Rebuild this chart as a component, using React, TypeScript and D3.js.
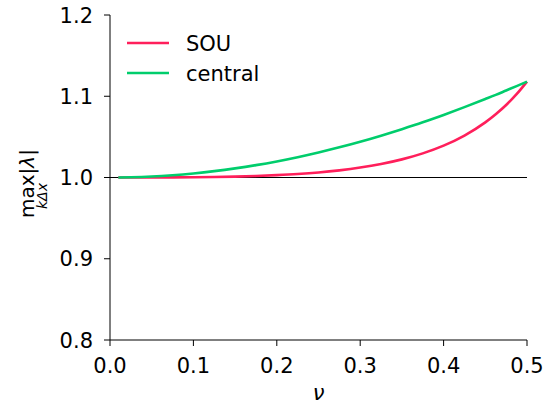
import React from "react";
import * as d3 from "d3";

// Courant numbers at which the amplification factor was sampled
const nu = [
  0.01, 0.025, 0.05, 0.075, 0.1, 0.125, 0.15, 0.175, 0.2, 0.225, 0.25, 0.275,
  0.3, 0.325, 0.35, 0.375, 0.4, 0.425, 0.45, 0.4625, 0.475, 0.4875, 0.5,
];

// max over kΔx of |λ| for the second-order upwind scheme
const souValues = [
  1.0, 1.0, 1.00003, 1.0001, 1.0003, 1.0006, 1.0011, 1.0018, 1.0029, 1.0043,
  1.0062, 1.0088, 1.0122, 1.0166, 1.0223, 1.0297, 1.0392, 1.0516, 1.0678,
  1.0778, 1.0892, 1.1025, 1.118,
];

// max over kΔx of |λ| for the central scheme
const centralValues = [
  1.00005, 1.0003, 1.0012, 1.0028, 1.005, 1.0078, 1.0112, 1.0152, 1.0198,
  1.025, 1.0308, 1.0371, 1.044, 1.0515, 1.0595, 1.0679, 1.077, 1.0866,
  1.0966, 1.1017, 1.1071, 1.1125, 1.118,
];

const seriesNames = ["SOU", "central"];
const seriesColors = ["#ff1f5b", "#00cd6c"];
const xTicks = [0.0, 0.1, 0.2, 0.3, 0.4, 0.5];
const yTicks = [0.8, 0.9, 1.0, 1.1, 1.2];

const W = 545;
const H = 409;
const FONT = "'DejaVu Sans', sans-serif";
const FS = 21;

export default function App() {
  const left = 110;
  const right = 527;
  const top = 15;
  const bottom = 340;

  const x = d3.scaleLinear().domain([0, 0.5]).range([left, right]);
  const y = d3.scaleLinear().domain([0.8, 1.2]).range([bottom, top]);

  const line = d3
    .line<[number, number]>()
    .x((d) => x(d[0]))
    .y((d) => y(d[1]))
    .curve(d3.curveMonotoneX);

  const series = [souValues, centralValues].map((vals) =>
    nu.map((n, i) => [n, vals[i]] as [number, number])
  );

  return (
    <svg
      width={W}
      height={H}
      style={{ position: "absolute", left: 0, top: 0, background: "#fff" }}
      fontFamily={FONT}
    >
      {/* reference line at |λ| = 1 */}
      <line
        x1={x(0)}
        x2={x(0.5)}
        y1={y(1.0)}
        y2={y(1.0)}
        stroke="#000"
        strokeWidth={1}
      />

      {series.map((pts, i) => (
        <path
          key={seriesNames[i]}
          d={line(pts) ?? ""}
          fill="none"
          stroke={seriesColors[i]}
          strokeWidth={2.6}
        />
      ))}

      {/* axes spines */}
      <line x1={left} x2={left} y1={top} y2={bottom} stroke="#000" strokeWidth={1} />
      <line x1={left} x2={right} y1={bottom} y2={bottom} stroke="#000" strokeWidth={1} />

      {/* x ticks */}
      {xTicks.map((t) => (
        <g key={"x" + t}>
          <line x1={x(t)} x2={x(t)} y1={bottom} y2={bottom + 6} stroke="#000" strokeWidth={1} />
          <text x={x(t)} y={373} textAnchor="middle" fontSize={FS} fill="#000">
            {d3.format(".1f")(t)}
          </text>
        </g>
      ))}

      {/* y ticks */}
      {yTicks.map((t) => (
        <g key={"y" + t}>
          <line x1={left - 6} x2={left} y1={y(t)} y2={y(t)} stroke="#000" strokeWidth={1} />
          <text
            x={93}
            y={y(t)}
            dy="0.36em"
            textAnchor="end"
            fontSize={FS}
            fill="#000"
          >
            {d3.format(".1f")(t)}
          </text>
        </g>
      ))}

      {/* x axis label */}
      <text x={x(0.25)} y={400} textAnchor="middle" fontSize={FS} fontStyle="italic" fill="#000">
        ν
      </text>

      {/* y axis label: max over kΔx of |λ| */}
      <g transform={`translate(34, 178) rotate(-90)`}>
        <text x={-40} y={0} fontSize={20} fill="#000">
          max|<tspan fontStyle="italic">λ</tspan>|
        </text>
        <text x={-18} y={13} textAnchor="middle" fontSize={14} fontStyle="italic" fill="#000">
          kΔx
        </text>
      </g>

      {/* legend */}
      {seriesNames.map((name, i) => (
        <g key={"lg" + name} transform={`translate(0, ${43 + i * 30})`}>
          <line x1={127} x2={169} y1={0} y2={0} stroke={seriesColors[i]} strokeWidth={2.6} />
          <text x={186} y={0} dy="0.36em" fontSize={FS} fill="#000">
            {name}
          </text>
        </g>
      ))}
    </svg>
  );
}
